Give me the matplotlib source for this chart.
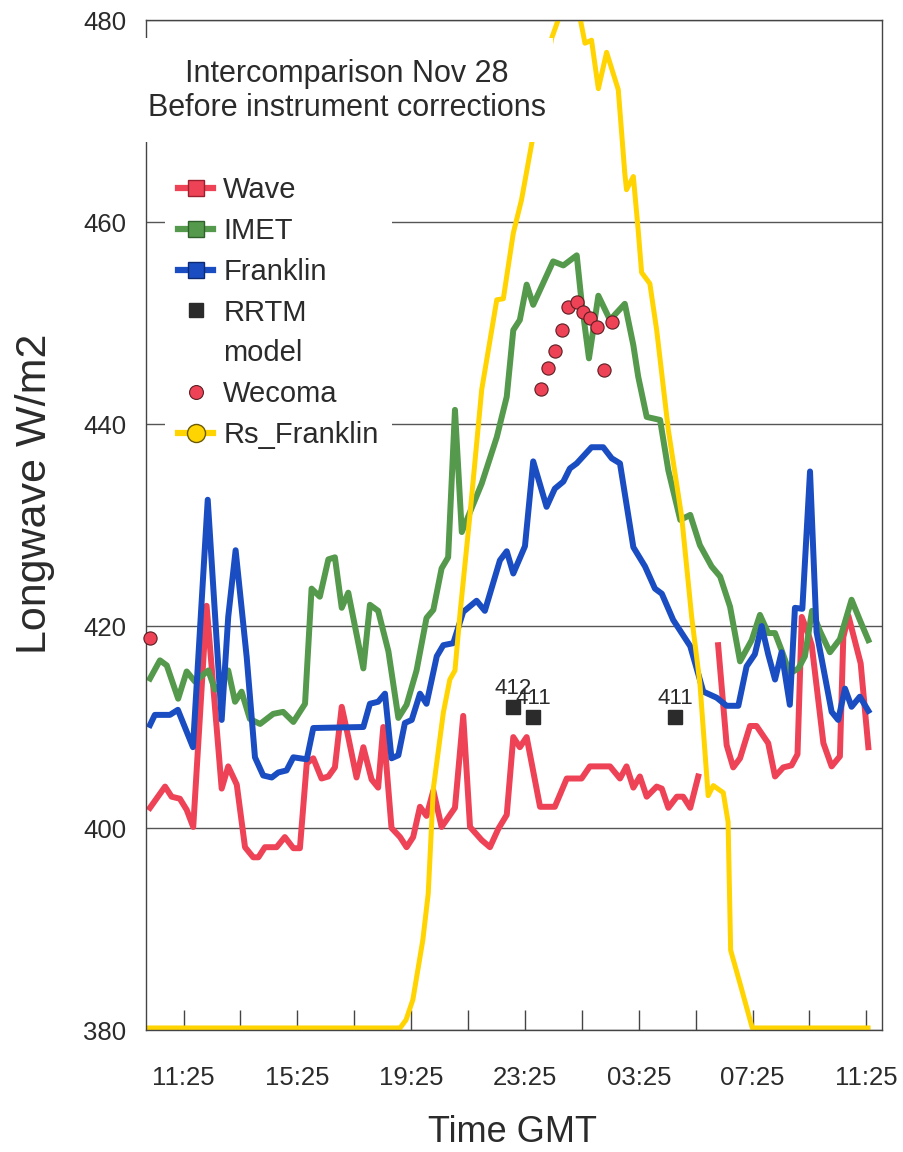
import matplotlib
matplotlib.use("Agg")
import matplotlib.pyplot as plt
from matplotlib.lines import Line2D
from matplotlib.patches import Rectangle
import numpy as np

plt.rcParams['font.family'] = ['Liberation Sans', 'DejaVu Sans']

# time is hours after 11:25 GMT, values are longwave in W/m2
wave_t = [-1.18, -0.65, -0.42, -0.13, 0.11, 0.34, 0.81, 1.34, 1.57, 1.87, 2.16, 2.45, 2.63, 2.86,
          3.27, 3.56, 3.86, 4.09, 4.33, 4.56, 4.85, 5.09, 5.32, 5.56, 5.79, 6.08, 6.32, 6.61, 6.84,
          7.02, 7.31, 7.61, 7.84, 8.07, 8.31, 8.54, 8.78, 9.07, 9.54, 9.83, 10.07, 10.48, 10.77,
          11.06, 11.36, 11.59, 11.82, 12.06, 12.53, 13.05, 13.47, 13.99, 14.28, 14.99, 15.34,
          15.57, 15.81, 16.04, 16.28, 16.63, 16.81, 17.04, 17.34, 17.56, 17.81, 18.09, 18.44,
          18.79, 19.09, 19.32, 19.56, 19.91, 20.14, 20.55, 20.79, 21.08, 21.37, 21.58, 21.73,
          21.96, 22.08, 22.49, 22.78, 23.07, 23.19, 23.37, 23.80, 24.07]
wave_lw = [402.0, 404.1, 403.1, 402.9, 401.8, 400.1, 422.0, 403.9, 406.1, 404.3, 398.1, 397.1,
           397.1, 398.1, 398.1, 399.1, 398.0, 398.0, 406.4, 406.9, 404.9, 405.1, 406.0, 412.0,
           409.0, 405.0, 408.0, 404.8, 404.0, 410.0, 400.0, 399.1, 398.1, 399.1, 402.1, 401.2,
           403.7, 400.1, 402.0, 411.1, 400.1, 398.8, 398.1, 399.9, 401.3, 409.0, 408.0, 409.0,
           402.1, 402.1, 404.9, 404.9, 406.1, 406.1, 404.9, 406.1, 404.0, 405.1, 403.1, 404.1,
           403.9, 402.0, 403.1, 403.1, 402.0, 405.1, np.nan, 418.1, 408.2, 406.0, 406.9, 410.1,
           410.1, 408.4, 405.1, 406.0, 406.2, 407.3, 420.9, 419.2, 418.1, 408.4, 406.1, 407.1,
           418.9, 421.0, 416.3, 408.0]

imet_t = [-1.18, -0.83, -0.59, -0.19, 0.11, 0.40, 0.87, 1.10, 1.34, 1.57, 1.81, 2.04, 2.33, 2.69,
          3.15, 3.50, 3.86, 4.27, 4.50, 4.79, 5.09, 5.32, 5.56, 5.79, 6.32, 6.55, 6.84, 7.20, 7.55,
          7.84, 8.19, 8.54, 8.78, 9.07, 9.30, 9.54, 9.78, 10.48, 11.01, 11.36, 11.59, 11.82, 12.06,
          12.29, 12.99, 13.35, 13.82, 13.99, 14.25, 14.58, 14.99, 15.51, 15.81, 15.98, 16.28,
          16.75, 17.04, 17.46, 17.81, 18.15, 18.56, 18.86, 19.21, 19.56, 19.97, 20.26, 20.55,
          20.79, 21.02, 21.31, 21.61, 21.84, 22.09, 22.37, 22.72, 23.07, 23.48, 23.77, 24.07]
imet_lw = [414.8, 416.6, 416.1, 412.8, 415.5, 414.5, 415.6, 413.7, 414.3, 415.6, 412.5, 413.5,
           410.8, 410.3, 411.3, 411.5, 410.5, 412.3, 423.7, 422.9, 426.6, 426.8, 421.8, 423.3,
           415.8, 422.1, 421.5, 417.5, 410.9, 412.2, 415.6, 420.8, 421.6, 425.7, 426.8, 441.4,
           429.3, 434.1, 438.7, 442.7, 449.3, 450.3, 453.8, 451.8, 456.1, 455.7, 456.7, 452.1,
           446.5, 452.7, 450.3, 451.9, 447.8, 444.7, 440.7, 440.4, 435.4, 430.5, 431.0, 428.0,
           425.9, 424.9, 421.9, 416.5, 418.6, 421.1, 419.3, 419.3, 417.6, 415.3, 415.8, 417.0,
           421.5, 419.5, 417.4, 418.7, 422.6, 420.6, 418.6]

frank_t = [-1.18, -1.01, -0.48, -0.20, 0.33, 0.85, 1.34, 1.57, 1.83, 2.22, 2.51, 2.80, 3.10, 3.33,
           3.62, 3.86, 4.33, 4.56, 6.32, 6.55, 6.84, 7.08, 7.31, 7.55, 7.78, 8.02, 8.31, 8.54,
           8.90, 9.13, 9.48, 9.83, 10.30, 10.59, 11.12, 11.36, 11.59, 12.00, 12.29, 12.76, 13.05,
           13.35, 13.58, 13.82, 14.34, 14.75, 15.05, 15.34, 15.81, 16.22, 16.57, 16.81, 17.21,
           17.81, 18.27, 18.74, 19.09, 19.50, 19.79, 20.08, 20.32, 20.55, 20.79, 21.02, 21.31,
           21.49, 21.75, 22.02, 22.25, 22.78, 23.01, 23.25, 23.48, 23.77, 24.07]
frank_lw = [410.2, 411.2, 411.2, 411.7, 408.0, 432.5, 410.7, 420.9, 427.5, 416.9, 407.0, 405.2,
            405.0, 405.5, 405.7, 407.0, 406.8, 409.9, 410.0, 412.3, 412.5, 413.3, 406.9, 407.2,
            410.4, 410.7, 413.3, 412.3, 417.0, 418.1, 418.3, 421.4, 422.5, 421.5, 426.5, 427.4,
            425.2, 427.9, 436.3, 431.8, 433.6, 434.3, 435.6, 436.1, 437.7, 437.7, 436.6, 436.1,
            427.8, 425.9, 423.7, 423.2, 420.6, 418.0, 413.5, 412.9, 412.1, 412.1, 416.0, 417.2,
            420.0, 417.2, 414.7, 417.4, 412.2, 421.8, 421.7, 435.3, 419.4, 411.5, 410.7, 413.8,
            412.0, 413.0, 411.6]

# shortwave trace, drawn on the same scale (sits at the floor at night)
rs_t = [-1.25, 7.61, 7.82, 8.06, 8.41, 8.60, 8.78, 9.13, 9.36, 9.54, 9.72, 10.07, 10.48, 11.01,
        11.24, 11.59, 11.88, 12.24, 12.56, 12.94, 13.23, 13.69, 13.93, 14.11, 14.34, 14.58,
        14.87, 15.28, 15.51, 15.57, 15.81, 15.98, 16.10, 16.39, 16.63, 17.04, 17.51, 17.86,
        18.15, 18.44, 18.62, 18.97, 19.14, 19.23, 19.59, 19.99, 24.06]
rs_val = [380.2, 380.2, 381.0, 383.0, 388.9, 393.5, 403.9, 411.4, 414.7, 415.6, 421.3, 431.1,
          443.4, 452.3, 452.4, 458.9, 462.2, 467.8, 472.5, 478.2, 480.5, 481.5, 480.3, 477.7,
          478.0, 473.2, 476.8, 473.1, 464.8, 463.2, 464.5, 459.2, 455.0, 453.9, 449.3, 439.4,
          430.8, 420.9, 414.3, 403.2, 404.2, 403.5, 400.6, 387.9, 384.3, 380.2, 380.2]

wecoma_t = [-1.18, 12.55, 12.82, 13.05, 13.29, 13.52, 13.82, 14.05, 14.28, 14.52, 14.78, 15.05]
wecoma_lw = [418.8, 443.5, 445.5, 447.2, 449.3, 451.6, 452.1, 451.1, 450.5, 449.6, 445.3, 450.1]

rrtm_t = [11.59, 12.29, 17.27]
rrtm_lw = [412, 411, 411]

tick_hours = np.arange(0, 25, 2)
tick_names = ['11:25', '15:25', '19:25', '23:25', '03:25', '07:25', '11:25']

RED = '#EE4256'
GREEN = '#55994C'
BLUE = '#1A4CC2'
YELLOW = '#FFD400'
INK = '#2b2b2b'
FRAME = '#444444'

fig = plt.figure(figsize=(9.04, 11.52), dpi=100)
ax = fig.add_axes([146 / 904, 1 - 1030 / 1152, 736 / 904, 1010 / 1152])

ax.plot(wave_t, wave_lw, color=RED, lw=4.3, zorder=2)
ax.plot(imet_t, imet_lw, color=GREEN, lw=4.3, zorder=2.1)
ax.plot(frank_t, frank_lw, color=BLUE, lw=4.3, zorder=2.2)
ax.plot(rs_t, rs_val, color=YELLOW, lw=3.6, zorder=2.3)
ax.plot(wecoma_t, wecoma_lw, 'o', ms=9.5, mfc=RED, mec='#5a1e22', mew=0.8, ls='none',
        zorder=3, clip_on=False)
ax.plot(rrtm_t, rrtm_lw, 's', ms=10, color=INK, ls='none', zorder=3.1)
for t, v in zip(rrtm_t, rrtm_lw):
    ax.annotate(f'{v:.0f}', (t, v), xytext=(0, 13), textcoords='offset points',
                ha='center', va='center', fontsize=16, color=INK, zorder=3.2)

ax.set_xlim(-1.32, 24.55)
ax.set_ylim(380, 480)
ax.set_yticks(np.arange(380, 481, 20))
ax.set_xticks(tick_hours)
ax.set_xticklabels([tick_names[i // 2] if i % 2 == 0 else '' for i in range(len(tick_hours))])
ax.yaxis.grid(True, color='#555555', lw=1)
ax.set_axisbelow(True)
ax.tick_params(axis='x', direction='in', length=14.4, width=1, color=FRAME, pad=26,
               labelsize=18.5, labelcolor=INK)
ax.tick_params(axis='y', length=0, pad=14, labelsize=18.5, labelcolor=INK)
for sp in ax.spines.values():
    sp.set_color(FRAME)
    sp.set_linewidth(1)

handles = [
    Line2D([], [], color=RED, lw=4.5, marker='s', ms=12, mfc=RED, mec='#9a2030'),
    Line2D([], [], color=GREEN, lw=4.5, marker='s', ms=12, mfc=GREEN, mec='#2f5f2a'),
    Line2D([], [], color=BLUE, lw=4.5, marker='s', ms=12, mfc=BLUE, mec='#0d2a70'),
    Line2D([], [], color=INK, ls='none', marker='s', ms=10),
    Line2D([], [], ls='none'),
    Line2D([], [], ls='none', marker='o', ms=10, mfc=RED, mec='#5a1e22', mew=0.8),
    Line2D([], [], color=YELLOW, lw=4.5, marker='o', ms=13, mfc=YELLOW, mec='#6b5a00', mew=1),
]
labels = ['Wave', 'IMET', 'Franklin', 'RRTM', 'model', 'Wecoma', 'Rs_Franklin']
ax.legend(handles, labels, loc='upper left', bbox_to_anchor=(165 / 904, 1 - 163 / 1152),
          bbox_transform=fig.transFigure, borderaxespad=0, frameon=True, fancybox=False,
          facecolor='white', edgecolor='none', framealpha=1, fontsize=21, handlelength=1.2,
          handletextpad=0.35, labelspacing=0.44, borderpad=0.45, labelcolor=INK, numpoints=1)

# white panel behind the heading, it hides the axis line underneath
fig.add_artist(Rectangle((138 / 904, 1 - 142 / 1152), 415 / 904, 104 / 1152,
                         transform=fig.transFigure, facecolor='white', edgecolor='none',
                         zorder=3))
fig.text(347 / 904, 1 - 91 / 1152, 'Intercomparison Nov 28\nBefore instrument corrections',
         ha='center', va='center', fontsize=22, color=INK, zorder=4, linespacing=1.15)

fig.text(35 / 904, 1 - 494 / 1152, 'Longwave W/m2', rotation=90, ha='center', va='center',
         fontsize=31, color=INK)
fig.text(513 / 904, 1 - 1133 / 1152, 'Time GMT', ha='center', va='center', fontsize=26,
         color=INK)

fig.savefig('out.png', dpi=100)
